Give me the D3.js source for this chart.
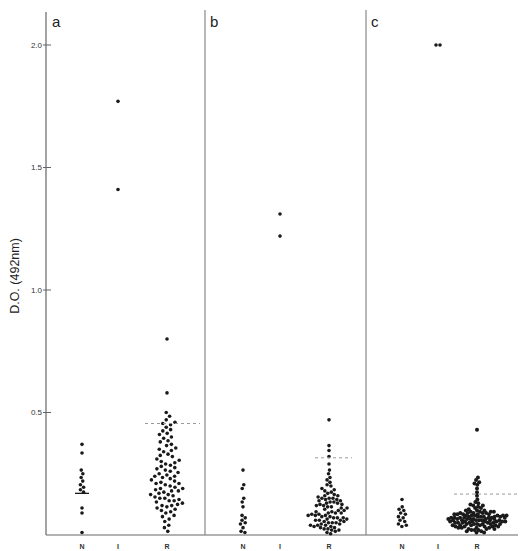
<!DOCTYPE html>
<html>
<head>
<meta charset="utf-8">
<script src="https://cdn.jsdelivr.net/npm/d3@7"></script>
<style>
  body { margin: 0; background: #fff; }
  svg { display: block; font-family: "Liberation Sans", Arial, sans-serif; }
</style>
</head>
<body>
<div id="chart"></div>
<script>
var width = 522, height = 551;

// groups and tick labels
var panels = ["a", "b", "c"];
var groups = ["N", "I", "R"];
var yTicks = [0.5, 1.0, 1.5, 2.0];

// D.O. values
var aN = [0.37, 0.335, 0.265, 0.25, 0.235, 0.22, 0.205, 0.195, 0.185, 0.175, 0.11, 0.09, 0.01];
var aI = [1.77, 1.41];
var aR = [0.80, 0.58, 0.50,
  0.485, 0.47, 0.46, 0.455, 0.45,
  0.44, 0.43, 0.425, 0.415, 0.41, 0.40,
  0.395, 0.385, 0.38, 0.37, 0.365, 0.355, 0.35,
  0.345, 0.34, 0.33, 0.325, 0.32, 0.31, 0.305, 0.30,
  0.295, 0.29, 0.285, 0.28, 0.275, 0.27, 0.265, 0.26, 0.255, 0.25,
  0.245, 0.24, 0.24, 0.235, 0.23, 0.225, 0.22, 0.215, 0.21, 0.21, 0.205, 0.20,
  0.195, 0.19, 0.19, 0.185, 0.18, 0.18, 0.175, 0.17, 0.165, 0.165, 0.16, 0.155, 0.15, 0.15,
  0.145, 0.14, 0.14, 0.135, 0.13, 0.125, 0.12, 0.12, 0.115, 0.11, 0.105, 0.10,
  0.095, 0.09, 0.08, 0.075, 0.065, 0.055,
  0.04, 0.03, 0.015];

var bN = [0.265, 0.205, 0.19, 0.15, 0.135, 0.115, 0.08, 0.07, 0.06, 0.05, 0.045, 0.03, 0.015, 0.01];
var bI = [1.31, 1.22];
var bR = [0.47, 0.365, 0.345, 0.32, 0.29, 0.265, 0.25, 0.235, 0.225, 0.215, 0.205, 0.20,
  0.19, 0.185, 0.18, 0.175, 0.17, 0.165, 0.16, 0.16, 0.155, 0.15, 0.15, 0.15,
  0.145, 0.145, 0.14, 0.14, 0.135, 0.135, 0.13, 0.13, 0.125, 0.125, 0.12, 0.12, 0.115, 0.115, 0.11, 0.11, 0.105, 0.10, 0.10,
  0.095, 0.095, 0.09, 0.09, 0.09, 0.085, 0.085, 0.08, 0.08, 0.08, 0.075, 0.075, 0.07, 0.07, 0.07,
  0.065, 0.065, 0.06, 0.06, 0.06, 0.055, 0.055, 0.05, 0.05, 0.05,
  0.045, 0.045, 0.04, 0.04, 0.04, 0.035, 0.035, 0.03, 0.03, 0.025, 0.025, 0.02, 0.02, 0.015, 0.01, 0.005];

var cN = [0.145, 0.115, 0.105, 0.10, 0.09, 0.085, 0.075, 0.07, 0.06, 0.055, 0.045, 0.04, 0.035];
var cI = [2.0, 2.0];
var cR = [0.43, 0.235, 0.225, 0.215, 0.21, 0.205, 0.19, 0.175, 0.16, 0.145,
  0.135, 0.13, 0.125, 0.12, 0.12, 0.115, 0.11, 0.11, 0.105, 0.10, 0.10, 0.10,
  0.095, 0.095, 0.095, 0.095, 0.09, 0.09, 0.09, 0.09, 0.09,
  0.085, 0.085, 0.085, 0.085, 0.085, 0.08, 0.08, 0.08, 0.08, 0.08, 0.08,
  0.075, 0.075, 0.075, 0.075, 0.075, 0.075, 0.07, 0.07, 0.07, 0.07, 0.07, 0.07, 0.07,
  0.065, 0.065, 0.065, 0.065, 0.065, 0.065, 0.065, 0.06, 0.06, 0.06, 0.06, 0.06, 0.06, 0.06,
  0.055, 0.055, 0.055, 0.055, 0.055, 0.055, 0.055, 0.05, 0.05, 0.05, 0.05, 0.05, 0.05,
  0.045, 0.045, 0.045, 0.045, 0.045, 0.045, 0.04, 0.04, 0.04, 0.04, 0.04,
  0.035, 0.035, 0.035, 0.035, 0.035, 0.03, 0.03, 0.03, 0.03, 0.025, 0.025, 0.025,
  0.02, 0.02, 0.02, 0.015, 0.015, 0.01, 0.01];

// dashed cut-off line per panel, and the mean bar of group N in panel a
var cutoffs = [0.455, 0.315, 0.167];
var aNMean = 0.17;

var series = [[aN, aI, aR], [bN, bI, bR], [cN, cI, cR]];

var svg = d3.select("#chart")
  .append("svg")
  .attr("width", width)
  .attr("height", height);

var y = d3.scaleLinear()
  .domain([0, 2])
  .range([535, 45]);

var panelX = d3.scaleOrdinal()
  .domain(panels)
  .range([[46, 205], [205, 366], [366, 518]]);

// column offsets inside each panel
var colX = {
  a: d3.scaleOrdinal().domain(groups).range([36, 72, 121]),
  b: d3.scaleOrdinal().domain(groups).range([38, 75, 124]),
  c: d3.scaleOrdinal().domain(groups).range([36, 72, 111])
};

// dot radius and spacing radius per panel
var dotR = [1.8, 1.8, 2.0];
var gapR = [2.5, 1.9, 1.55];

// beeswarm: y fixed on the value, x pulled to the column and pushed apart
function swarm(vals, cx, r) {
  var nodes = vals.map(function (v, i) {
    return { v: v, fy: y(v), y: y(v), x: cx + ((i % 2) ? 0.3 : -0.3) * (i % 7) };
  });
  var sim = d3.forceSimulation(nodes)
    .force("x", d3.forceX(cx).strength(0.1))
    .force("collide", d3.forceCollide(r).iterations(3))
    .stop();
  for (var i = 0; i < 300; i++) sim.tick();
  return nodes;
}

var ink = "#1a1a1a";
var axisCol = "#666";

// y axis
svg.append("line")
  .attr("x1", 46).attr("x2", 46)
  .attr("y1", 12).attr("y2", y(0))
  .attr("stroke", axisCol).attr("stroke-width", 1.2);

var ticks = svg.append("g").selectAll("g")
  .data(yTicks).enter().append("g")
  .attr("transform", function (d) { return "translate(0," + y(d) + ")"; });
ticks.append("line")
  .attr("x1", 43).attr("x2", 51)
  .attr("stroke", axisCol).attr("stroke-width", 1);
ticks.append("text")
  .attr("x", 42).attr("dy", "0.35em")
  .attr("text-anchor", "end")
  .attr("font-size", 8)
  .attr("fill", "#333")
  .text(function (d) { return d.toFixed(1); });

svg.append("text")
  .attr("transform", "translate(19," + 276 + ") rotate(-90)")
  .attr("text-anchor", "middle")
  .attr("font-size", 12.5)
  .attr("fill", "#222")
  .text("D.O. (492nm)");

// baseline
svg.append("line")
  .attr("x1", 46).attr("x2", 518)
  .attr("y1", y(0)).attr("y2", y(0))
  .attr("stroke", axisCol).attr("stroke-width", 1.2);

panels.forEach(function (p, pi) {
  var x0 = panelX(p)[0];

  if (pi > 0) {
    svg.append("line")
      .attr("x1", x0).attr("x2", x0)
      .attr("y1", 10).attr("y2", y(0))
      .attr("stroke", "#888").attr("stroke-width", 1.2);
  }

  svg.append("text")
    .attr("x", x0 + (pi == 0 ? 6 : 5))
    .attr("y", 27)
    .attr("font-size", 15)
    .attr("fill", "#222")
    .text(p);

  groups.forEach(function (g, gi) {
    var cx = x0 + colX[p](g);
    var pts = swarm(series[pi][gi], cx, gi == 2 ? gapR[pi] : 2.0);
    svg.append("g").selectAll("circle")
      .data(pts).enter()
      .append("circle")
      .attr("cx", function (d) { return d.x; })
      .attr("cy", function (d) { return d.y; })
      .attr("r", gi == 2 ? dotR[pi] : 1.8)
      .attr("fill", ink);

    svg.append("text")
      .attr("x", cx).attr("y", 549)
      .attr("text-anchor", "middle")
      .attr("font-size", 7)
      .attr("font-weight", "bold")
      .attr("fill", "#333")
      .text(g);
  });

  // dashed cut-off over the R column
  var rx = x0 + colX[p]("R");
  var ext = [[-22, 33], [-14, 23], [-23, 42]][pi];
  svg.append("line")
    .attr("x1", rx + ext[0]).attr("x2", rx + ext[1])
    .attr("y1", y(cutoffs[pi])).attr("y2", y(cutoffs[pi]))
    .attr("stroke", "#999").attr("stroke-width", 1)
    .attr("stroke-dasharray", "3,3");
});

// mean bar, group N of panel a
svg.append("line")
  .attr("x1", 46 + colX.a("N") - 7).attr("x2", 46 + colX.a("N") + 7)
  .attr("y1", y(aNMean)).attr("y2", y(aNMean))
  .attr("stroke", ink).attr("stroke-width", 1.3);
</script>
</body>
</html>
